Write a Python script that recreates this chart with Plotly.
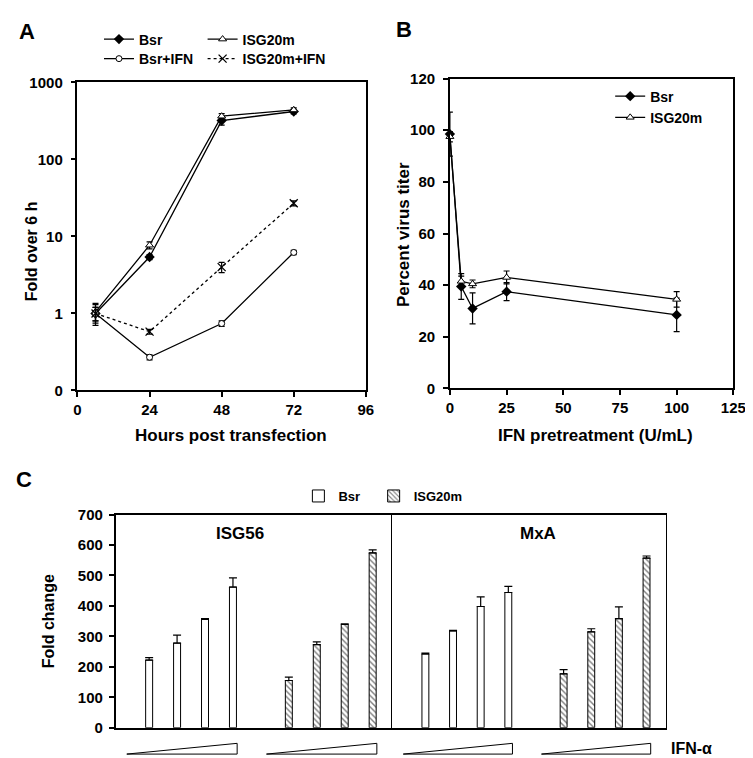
import plotly.graph_objects as go

# ---- data ----
# panel A: fold over 6 h
hours = [6, 24, 48, 72]
bsr = [1.0, 5.4, 320, 420]
bsr_err = [0.3, 0.4, 40, 30]
isg20m = [1.05, 7.7, 365, 440]
isg20m_err = [0.3, 0.8, 30, 30]
bsr_ifn = [1.0, 0.27, 0.74, 6.2]
bsr_ifn_err = [0.2, 0.02, 0.06, 0.4]
isg20m_ifn = [1.0, 0.58, 4.0, 27]
isg20m_ifn_err = [0.2, 0.04, 0.6, 2]

# panel B: percent virus titer
ifn_dose = [0, 5, 10, 25, 100]
b_bsr = [98.5, 39.5, 31, 37.5, 28.5]
b_bsr_err = [8.5, 5, 6, 3.5, 6.5]
b_isg20m = [97.5, 41.5, 40.5, 43, 34.5]
b_isg20m_err = [2, 2, 1.5, 2.5, 3]

# panel C: fold change, 4 IFN-a doses
dose = [1, 2, 3, 4]
isg56_bsr = [222, 278, 356, 462]
isg56_bsr_err = [8, 26, 2, 30]
isg56_isg20m = [155, 273, 339, 574]
isg56_isg20m_err = [11, 9, 2, 10]
mxa_bsr = [242, 318, 398, 444]
mxa_bsr_err = [3, 2, 32, 20]
mxa_isg20m = [177, 315, 358, 557]
mxa_isg20m_err = [14, 10, 39, 7]

W, H = 753, 758
FONT = "Liberation Sans, Arial, sans-serif"


def px(x):
    return x / W


def py(y):
    return 1 - y / H


fig = go.Figure()

# ---- panel A ----
def err(a):
    return dict(type="data", array=a, color="black", thickness=1.2, width=3)


fig.add_trace(go.Scatter(x=hours, y=bsr, name="Bsr", mode="lines+markers",
                         line=dict(color="black", width=1.3),
                         marker=dict(symbol="diamond", size=8, color="black"),
                         error_y=err(bsr_err), legend="legend", cliponaxis=False))
fig.add_trace(go.Scatter(x=hours, y=isg20m, name="ISG20m", mode="lines+markers",
                         line=dict(color="black", width=1.3),
                         marker=dict(symbol="triangle-up", size=7, color="white",
                                     line=dict(color="black", width=1)),
                         error_y=err(isg20m_err), legend="legend2", cliponaxis=False))
fig.add_trace(go.Scatter(x=hours, y=bsr_ifn, name="Bsr+IFN", mode="lines+markers",
                         line=dict(color="black", width=1.3),
                         marker=dict(symbol="circle", size=6, color="white",
                                     line=dict(color="black", width=1)),
                         error_y=err(bsr_ifn_err), legend="legend3", cliponaxis=False))
fig.add_trace(go.Scatter(x=hours, y=isg20m_ifn, name="ISG20m+IFN", mode="lines+markers",
                         line=dict(color="black", width=1.3, dash="dot"),
                         marker=dict(symbol="x-thin", size=8, color="black",
                                     line=dict(color="black", width=1.3)),
                         error_y=err(isg20m_ifn_err), legend="legend4", cliponaxis=False))

# ---- panel B ----
fig.add_trace(go.Scatter(x=ifn_dose, y=b_bsr, name="Bsr", mode="lines+markers",
                         line=dict(color="black", width=1.3),
                         marker=dict(symbol="diamond", size=8, color="black"),
                         error_y=err(b_bsr_err), xaxis="x2", yaxis="y2",
                         legend="legend5", cliponaxis=False))
fig.add_trace(go.Scatter(x=ifn_dose, y=b_isg20m, name="ISG20m", mode="lines+markers",
                         line=dict(color="black", width=1.3),
                         marker=dict(symbol="triangle-up", size=7, color="white",
                                     line=dict(color="black", width=1)),
                         error_y=err(b_isg20m_err), xaxis="x2", yaxis="y2",
                         legend="legend5", cliponaxis=False))

# ---- panel C ----
def up_err(a):
    return dict(type="data", symmetric=False, array=a, arrayminus=[0] * len(a),
                color="black", thickness=1.2, width=4)


plain = dict(color="white", line=dict(color="black", width=1))
hatched = dict(color="white", line=dict(color="black", width=1),
               pattern=dict(shape="\\", size=4, solidity=0.35, fgcolor="black"))

x_bsr = dose
x_isg = [d + 5 for d in dose]
fig.add_trace(go.Bar(x=x_bsr, y=isg56_bsr, width=0.25, marker=plain, name="Bsr",
                     error_y=up_err(isg56_bsr_err), xaxis="x3", yaxis="y3",
                     legend="legend6"))
fig.add_trace(go.Bar(x=x_isg, y=isg56_isg20m, width=0.25, marker=hatched, name="ISG20m",
                     error_y=up_err(isg56_isg20m_err), xaxis="x3", yaxis="y3",
                     legend="legend7"))
fig.add_trace(go.Bar(x=x_bsr, y=mxa_bsr, width=0.25, marker=plain, name="Bsr",
                     error_y=up_err(mxa_bsr_err), xaxis="x4", yaxis="y4",
                     showlegend=False))
fig.add_trace(go.Bar(x=x_isg, y=mxa_isg20m, width=0.25, marker=hatched, name="ISG20m",
                     error_y=up_err(mxa_isg20m_err), xaxis="x4", yaxis="y4",
                     showlegend=False))

tickf = dict(family=FONT, size=15, color="black", weight="bold")
ax = dict(showline=True, linecolor="black", linewidth=1.5, mirror=True,
          showgrid=False, zeroline=False, ticks="outside", ticklen=5,
          tickcolor="black", tickwidth=1.5, tickfont=tickf)

fig.update_layout(
    width=W, height=H, margin=dict(l=0, r=0, t=0, b=0),
    plot_bgcolor="white", paper_bgcolor="white",
    barmode="overlay",
    xaxis=dict(ax, domain=[px(67), px(362)], range=[0, 96], tickvals=[0, 24, 48, 72, 96],
               anchor="y"),
    yaxis=dict(ax, domain=[py(382), py(67)], type="log", range=[-1, 3],
               tickvals=[0.1, 1, 10, 100, 1000], ticktext=["0", "1", "10", "100", "1000"],
               anchor="x", ticklabelstandoff=5),
    xaxis2=dict(ax, domain=[px(448), px(738)], range=[0, 125], dtick=25, anchor="y2"),
    yaxis2=dict(ax, domain=[py(380), py(63)], range=[0, 120], dtick=20, anchor="x2",
                ticklabelstandoff=5),
    xaxis3=dict(ax, domain=[px(106), px(389)], range=[-0.2, 9.7], ticks="",
                showticklabels=False, anchor="y3"),
    yaxis3=dict(ax, domain=[py(727), py(509)], range=[0, 700], dtick=100, anchor="x3",
                ticklabelstandoff=3, mirror=False),
    xaxis4=dict(ax, domain=[px(389), px(669)], range=[-0.2, 9.7], ticks="",
                showticklabels=False, anchor="y4"),
    yaxis4=dict(ax, domain=[py(727), py(509)], range=[0, 700], ticks="",
                showticklabels=False, anchor="x4", matches="y3", linewidth=1.2),
)

legf = dict(family=FONT, size=14, color="black", weight="bold")
leg = dict(bgcolor="rgba(0,0,0,0)", font=legf, xanchor="left", yanchor="middle",
           itemwidth=30, tracegroupgap=0)
fig.update_layout(
    legend=dict(leg, x=px(89), y=py(23)),
    legend2=dict(leg, x=px(195), y=py(23)),
    legend3=dict(leg, x=px(89), y=py(43)),
    legend4=dict(leg, x=px(195), y=py(43)),
    legend5=dict(leg, yanchor="top", x=px(612), y=py(65)),
    legend6=dict(leg, x=px(293), y=py(490), font=dict(legf, size=13)),
    legend7=dict(leg, x=px(370), y=py(490), font=dict(legf, size=13)),
)

# ---- text ----
def label(text, x, y, size, angle=0):
    fig.add_annotation(text=text, x=px(x), y=py(y), xref="paper", yref="paper",
                       showarrow=False, textangle=angle, xanchor="center",
                       yanchor="middle",
                       font=dict(family=FONT, size=size, color="black", weight="bold"))


label("A", 15, 15, 22)
label("B", 401, 13, 22)
label("C", 12, 473, 22)
label("Hours post transfection", 224, 428, 17)
label("IFN pretreatment (U/mL)", 597, 428, 17)
label("Fold over 6 h", 20, 240, 16, -90)
label("Percent virus titer", 400, 222, 17, -90)
label("Fold change", 37, 618, 16, -90)
label("ISG56", 233, 528, 17)
label("MxA", 538, 528, 17)
label("IFN-α", 695, 748, 16)

# dose wedges under each bar group
for xr in ["x3", "x4"]:
    for start in [x_bsr[0], x_isg[0]]:
        x0 = start - 0.8
        x1 = start + (dose[-1] - dose[0]) + 0.15
        fig.add_shape(type="path", xref=xr, yref="paper",
                      path=f"M {x0},{py(754)} L {x1},{py(754)} L {x1},{py(743)} Z",
                      line=dict(color="black", width=1), fillcolor="white")

fig.write_html("out.html")
